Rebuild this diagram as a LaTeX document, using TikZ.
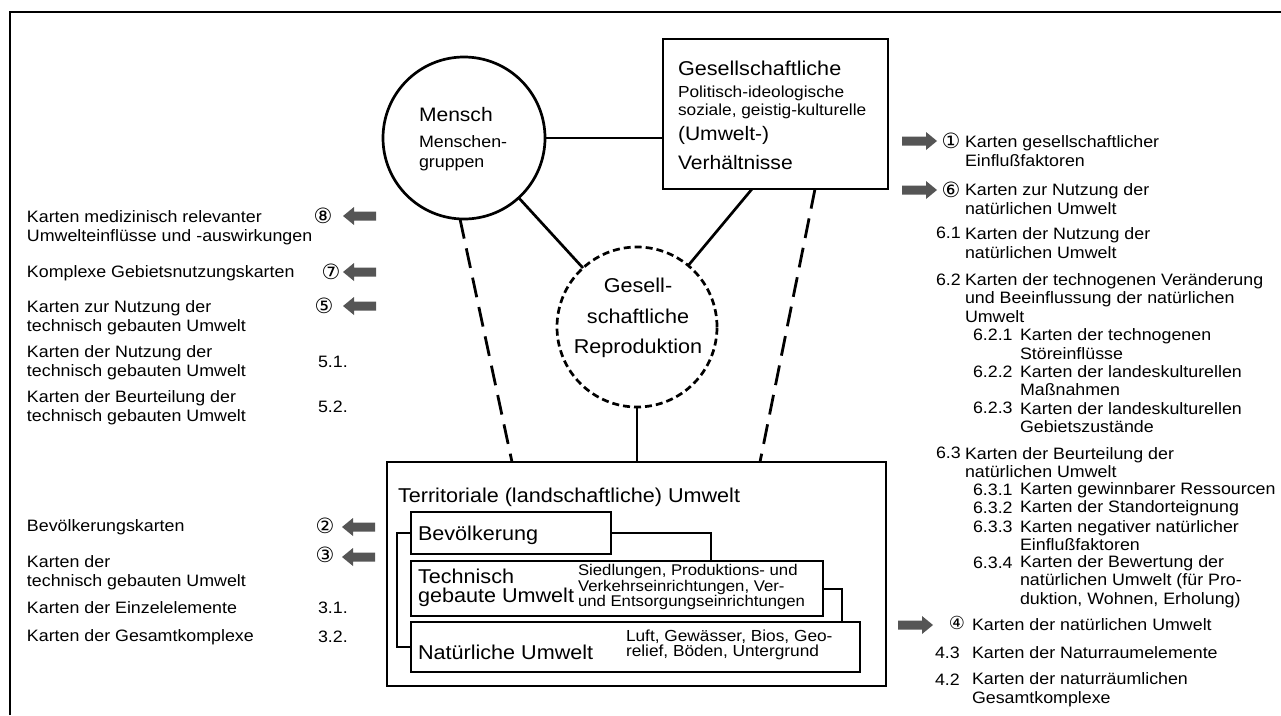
\documentclass[tikz,border=0pt]{standalone}
\usepackage{fontspec}
\setmainfont{Liberation Sans}[FakeStretch=1.08]
\newfontfamily\symf{DejaVu Sans}
\usetikzlibrary{calc}
\definecolor{arrowgray}{HTML}{555555}
\tikzset{
  every node/.style={inner sep=0pt, outer sep=0pt},
  lst/.style={font=\fontsize{16.5}{18.5}\selectfont, align=left, anchor=west},
  num/.style={font=\symf\fontsize{21}{21}\selectfont},
  big/.style={font=\fontsize{20}{20}\selectfont, anchor=west},
  mid/.style={font=\fontsize{16}{18}\selectfont, align=left, anchor=west},
  boxthick/.style={draw, line width=2.7pt, rectangle},
  boxthin/.style={draw, line width=2pt, rectangle, anchor=north west},
  conn/.style={line width=2.7pt},
  longdash/.style={line width=2.8pt, dash pattern=on 20pt off 10pt},
  rarrow/.pic={\fill[arrowgray] (-35,-4.5) -- (-11,-4.5) -- (-11,-9) -- (0,0) -- (-11,9) -- (-11,4.5) -- (-35,4.5) -- cycle;},
  larrow/.pic={\fill[arrowgray] (33,-4.5) -- (11,-4.5) -- (11,-9) -- (0,0) -- (11,9) -- (11,4.5) -- (33,4.5) -- cycle;}
}
\begin{document}
\begin{tikzpicture}[x=1pt,y=-1pt]
\useasboundingbox (0,0) rectangle (1281,715);
% outer frame
\draw[line width=2.2pt] (10,715) -- (10,12) -- (1281,12);

% main nodes
\node[circle, draw, line width=2.7pt, minimum size=162pt] (mensch) at (464,138) {};
\node[circle, draw, line width=2.7pt, dash pattern=on 7pt off 4pt, minimum size=160pt] (repro) at (637,327) {};
\node[boxthick, anchor=north west, minimum width=225pt, minimum height=150pt] (gesell) at (663,39) {};
\node[boxthick, anchor=north west, minimum width=499pt, minimum height=224pt] (terr) at (387,462) {};

% texts of main nodes
\node[big, font=\fontsize{19.5}{20}\selectfont] (tmensch) at (419,115) {Mensch};
\node[mid, font=\fontsize{16.5}{20}\selectfont] (tmgr) at (419,153) {Menschen-\\gruppen};
\node[font=\fontsize{20}{30.5}\selectfont, align=center] (trepro) at (638,318) {Gesell-\\schaftliche\\Reproduktion};
\node[big] (tg1) at (678,68) {Gesellschaftliche};
\node[mid] (tg2) at (678,102) {Politisch-ideologische\\soziale, geistig-kulturelle};
\node[big, font=\fontsize{19.5}{20}\selectfont] (tg3) at (678,135) {(Umwelt-)};
\node[big, font=\fontsize{19.5}{20}\selectfont] (tg4) at (678,163) {Verhältnisse};
\node[big] (tterr) at (398,497) {Territoriale (landschaftliche) Umwelt};

% inner boxes
\node[boxthin, minimum width=200pt, minimum height=42pt] (bev) at (411,512) {};
\node[boxthin, minimum width=412pt, minimum height=55pt] (tech) at (411,561) {};
\node[boxthin, minimum width=449pt, minimum height=50pt] (nat) at (411,622) {};
\node[big] (tbev) at (418,535) {Bevölkerung};
\node[big, font=\fontsize{20}{19}\selectfont, align=left] (ttech) at (418,587.5) {Technisch\\gebaute Umwelt};
\node[mid, font=\fontsize{15.5}{14.2}\selectfont] (ttech2) at (578,587) {Siedlungen, Produktions- und\\Verkehrseinrichtungen, Ver-\\und Entsorgungseinrichtungen};
\node[big] (tnat) at (418,652) {Natürliche Umwelt};
\node[mid, font=\fontsize{16}{15}\selectfont] (tnat2) at (626,644.5) {Luft, Gewässer, Bios, Geo-\\relief, Böden, Untergrund};

% inner brackets
\draw[line width=2pt] (bev.west) -- ++(-14,0) |- (nat.west);
\draw[line width=2pt] (bev.east) -| ([xshift=94pt]tech.north);
\draw[line width=2pt] (tech.east) -| ([xshift=206.5pt]nat.north);

% connectors
\draw[conn] (mensch) -- (mensch -| gesell.west);
\draw[conn] (mensch) -- (repro);
\draw[conn] ([xshift=-23.5pt]gesell.south) -- (repro);
\draw[conn] (repro.south) -- (repro.south |- terr.north);
\draw[longdash] ([xshift=-4pt]mensch.south) -- ([xshift=-124.5pt]terr.north);
\draw[longdash] ([xshift=39.5pt]gesell.south) -- ([xshift=123.5pt]terr.north);

% left column
\node[lst] (l8) at (27,227.5) {Karten medizinisch relevanter\\Umwelteinflüsse und -auswirkungen};
\node[num] (n8) at (323,216) {⑧};
\pic at (343,216) {larrow};
\node[lst] (l7) at (27,273) {Komplexe Gebietsnutzungskarten};
\node[num] (n7) at (331,272) {⑦};
\pic at (343,272) {larrow};
\node[lst] (l5) at (27,317.5) {Karten zur Nutzung der\\technisch gebauten Umwelt};
\node[num] (n5) at (324,306) {⑤};
\pic at (343,306) {larrow};
\node[lst] (l51) at (27,362.5) {Karten der Nutzung der\\technisch gebauten Umwelt};
\node[lst] (c51) at (318,362) {5.1.};
\node[lst] (l52) at (27,407.5) {Karten der Beurteilung der\\technisch gebauten Umwelt};
\node[lst] (c52) at (318,407) {5.2.};
\node[lst] (l2) at (27,527) {Bevölkerungskarten};
\node[num] (n2) at (325,526) {②};
\pic at (342,527) {larrow};
\node[lst] (l3) at (27,572.5) {Karten der\\technisch gebauten Umwelt};
\node[num] (n3) at (325,555) {③};
\pic at (342,557) {larrow};
\node[lst] (l31) at (27,608) {Karten der Einzelelemente};
\node[lst] (c31) at (318,608) {3.1.};
\node[lst] (l32) at (27,637) {Karten der Gesamtkomplexe};
\node[lst] (c32) at (318,637) {3.2.};

% right column
\pic at (937,141) {rarrow};
\node[num] (n1) at (951,141) {①};
\node[lst] (r1) at (965,151) {Karten gesellschaftlicher\\Einflußfaktoren};
\pic at (937,190) {rarrow};
\node[num] (n6) at (951,190) {⑥};
\node[lst] (r6) at (965,199) {Karten zur Nutzung der\\natürlichen Umwelt};
\node[lst] (c61) at (936,233) {6.1};
\node[lst] (r61) at (965,243) {Karten der Nutzung der\\natürlichen Umwelt};
\node[lst] (c62) at (936,280) {6.2};
\node[lst] (r62) at (965,298) {Karten der technogenen Veränderung\\und Beeinflussung der natürlichen\\Umwelt};
\node[lst] (c621) at (973,335) {6.2.1};
\node[lst] (r621) at (1020,344) {Karten der technogenen\\Störeinflüsse};
\node[lst] (c622) at (973,372) {6.2.2};
\node[lst] (r622) at (1020,380.5) {Karten der landeskulturellen\\Maßnahmen};
\node[lst] (c623) at (973,408) {6.2.3};
\node[lst] (r623) at (1020,417.5) {Karten der landeskulturellen\\Gebietszustände};
\node[lst] (c63) at (936,453) {6.3};
\node[lst] (r63) at (965,462.5) {Karten der Beurteilung der\\natürlichen Umwelt};
\node[lst] (c631) at (973,490) {6.3.1};
\node[lst] (r631) at (1020,490) {Karten gewinnbarer Ressourcen};
\node[lst] (c632) at (973,508) {6.3.2};
\node[lst] (r632) at (1020,508) {Karten der Standorteignung};
\node[lst] (c633) at (973,527) {6.3.3};
\node[lst] (r633) at (1020,535.5) {Karten negativer natürlicher\\Einflußfaktoren};
\node[lst] (c634) at (973,563) {6.3.4};
\node[lst] (r634) at (1020,581.5) {Karten der Bewertung der\\natürlichen Umwelt (für Pro-\\duktion, Wohnen, Erholung)};
\pic at (933,625) {rarrow};
\node[num, font=\symf\fontsize{18}{18}\selectfont] (n4) at (957,623) {④};
\node[lst] (r4) at (972,625) {Karten der natürlichen Umwelt};
\node[lst] (c43) at (935,653) {4.3};
\node[lst] (r43) at (972,653) {Karten der Naturraumelemente};
\node[lst] (c42) at (935,680) {4.2};
\node[lst] (r42) at (972,689.5) {Karten der naturräumlichen\\Gesamtkomplexe};
\end{tikzpicture}
\end{document}
